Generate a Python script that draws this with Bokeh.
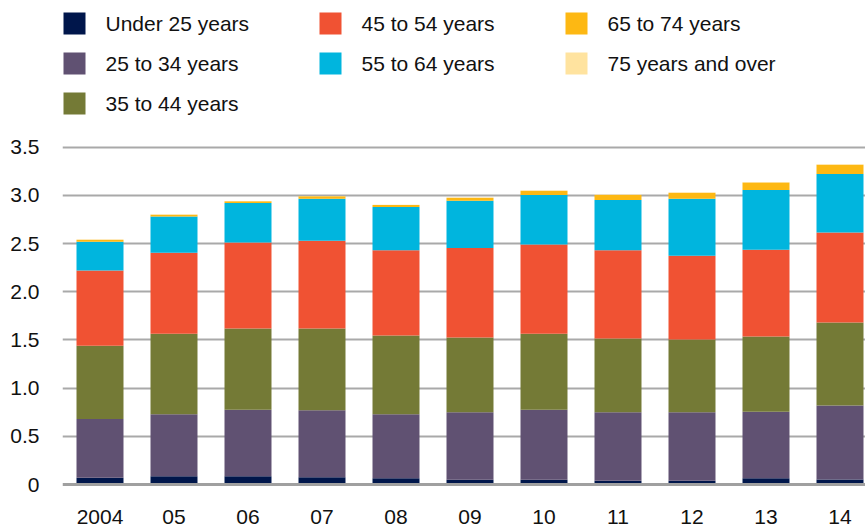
from bokeh.plotting import figure
from bokeh.models import ColumnDataSource, Range1d, FixedTicker, Span
from bokeh.layouts import column
from bokeh.embed import file_html
from bokeh.resources import INLINE
from bokeh.core.properties import value

# ---- data ----
years = ["2004", "05", "06", "07", "08", "09", "10", "11", "12", "13", "14"]
series = ["Under 25 years", "25 to 34 years", "35 to 44 years", "45 to 54 years",
          "55 to 64 years", "65 to 74 years", "75 years and over"]
colors = ["#00164B", "#605172", "#747A36", "#F05233", "#00B5DE", "#FDB813", "#FFE39F"]

under25 = [0.070, 0.085, 0.085, 0.075, 0.065, 0.050, 0.050, 0.040, 0.040, 0.065, 0.052]
age25_34 = [0.610, 0.645, 0.690, 0.695, 0.665, 0.700, 0.725, 0.710, 0.710, 0.690, 0.768]
age35_44 = [0.760, 0.835, 0.845, 0.850, 0.815, 0.775, 0.790, 0.765, 0.755, 0.782, 0.862]
age45_54 = [0.780, 0.840, 0.890, 0.910, 0.885, 0.930, 0.925, 0.915, 0.868, 0.898, 0.933]
age55_64 = [0.300, 0.375, 0.410, 0.435, 0.450, 0.490, 0.515, 0.523, 0.592, 0.622, 0.608]
age65_74 = [0.020, 0.020, 0.020, 0.025, 0.020, 0.030, 0.042, 0.052, 0.062, 0.076, 0.096]
age75 = [0.003, 0.003, 0.003, 0.003, 0.003, 0.003, 0.003, 0.003, 0.003, 0.003, 0.003]

y_ticks = [0, 0.5, 1.0, 1.5, 2.0, 2.5, 3.0, 3.5]
y_tick_labels = {0: "0", 0.5: "0.5", 1.0: "1.0", 1.5: "1.5", 2.0: "2.0", 2.5: "2.5", 3.0: "3.0", 3.5: "3.5"}

FONT = "Liberation Sans"
TXT = "#111111"
W = 865
LEFT = 62  # left border (px) shared by both stacked figures

# ---- legend figure (data units = page pixels) ----
LH = 130
leg = figure(width=W, height=LH, x_range=Range1d(LEFT, W), y_range=Range1d(LH, 0),
             output_backend="svg", toolbar_location=None,
             min_border_left=LEFT, min_border_right=0, min_border_top=0, min_border_bottom=0)
leg.axis.visible = False
leg.grid.visible = False
leg.outline_line_color = None
col_x = [63, 319, 565]
lx, ly, tx = [], [], []
for i, name in enumerate(series):
    c = 0 if i < 3 else (1 if i < 5 else 2)
    r = i if i < 3 else (i - 3 if i < 5 else i - 5)
    lx.append(col_x[c] + 11)
    ly.append(23 + 40 * r)
    tx.append(col_x[c] + 42)
lsrc = ColumnDataSource(dict(x=lx, y=ly, tx=tx, name=series, color=colors))
leg.rect(x="x", y="y", width=22, height=22, fill_color="color", line_color=None, source=lsrc)
leg.text(x="tx", y="y", text="name", text_font=value(FONT), text_font_size="21px",
         text_baseline="middle", text_align="left", text_color=TXT, source=lsrc)

# ---- main chart ----
MH = 529 - LH
frame_top, frame_bottom = 14, MH
y0_px, y35_px = 484 - LH, 146.7 - LH
ppu = (y0_px - y35_px) / 3.5
y_start = -(frame_bottom - y0_px) / ppu
y_end = 3.5 + (y35_px - frame_top) / ppu

step = 74.0
first_c = 99.5 - LEFT
x_start = -first_c / step
x_end = (W - LEFT - first_c) / step

x = list(range(len(years)))
src = ColumnDataSource(dict(x=x, year=years, zero=[0] * len(years)))
cols = [under25, age25_34, age35_44, age45_54, age55_64, age65_74, age75]
for name, vals in zip(series, cols):
    src.data[name] = vals

p = figure(width=W, height=MH, x_range=Range1d(x_start, x_end), y_range=Range1d(y_start, y_end),
           output_backend="svg", toolbar_location=None,
           min_border_left=LEFT, min_border_right=0, min_border_top=frame_top, min_border_bottom=0)
p.outline_line_color = None
p.xaxis.visible = False
p.xgrid.visible = False
p.ygrid.ticker = FixedTicker(ticks=y_ticks[1:])
p.ygrid.grid_line_color = "#a9a9a9"
p.ygrid.grid_line_width = 2

yax = p.yaxis[0]
yax.ticker = FixedTicker(ticks=y_ticks)
yax.major_label_overrides = y_tick_labels
yax.axis_line_color = None
yax.major_tick_line_color = None
yax.minor_tick_line_color = None
yax.major_label_standoff = 17
yax.major_label_text_font = FONT
yax.major_label_text_font_size = "21px"
yax.major_label_text_color = TXT

p.vbar_stack(series, x="x", width=0.635, color=colors, line_color=None, source=src)
p.add_layout(Span(location=0, dimension="width", line_color="#a0a0a0", line_width=3))

p.text(x="x", y="zero", text="year", y_offset=32, text_font=value(FONT), text_font_size="21px",
       text_align="center", text_baseline="alphabetic", text_color=TXT, source=src)

layout = column(leg, p)
open("out.html", "w").write(file_html(layout, INLINE))
